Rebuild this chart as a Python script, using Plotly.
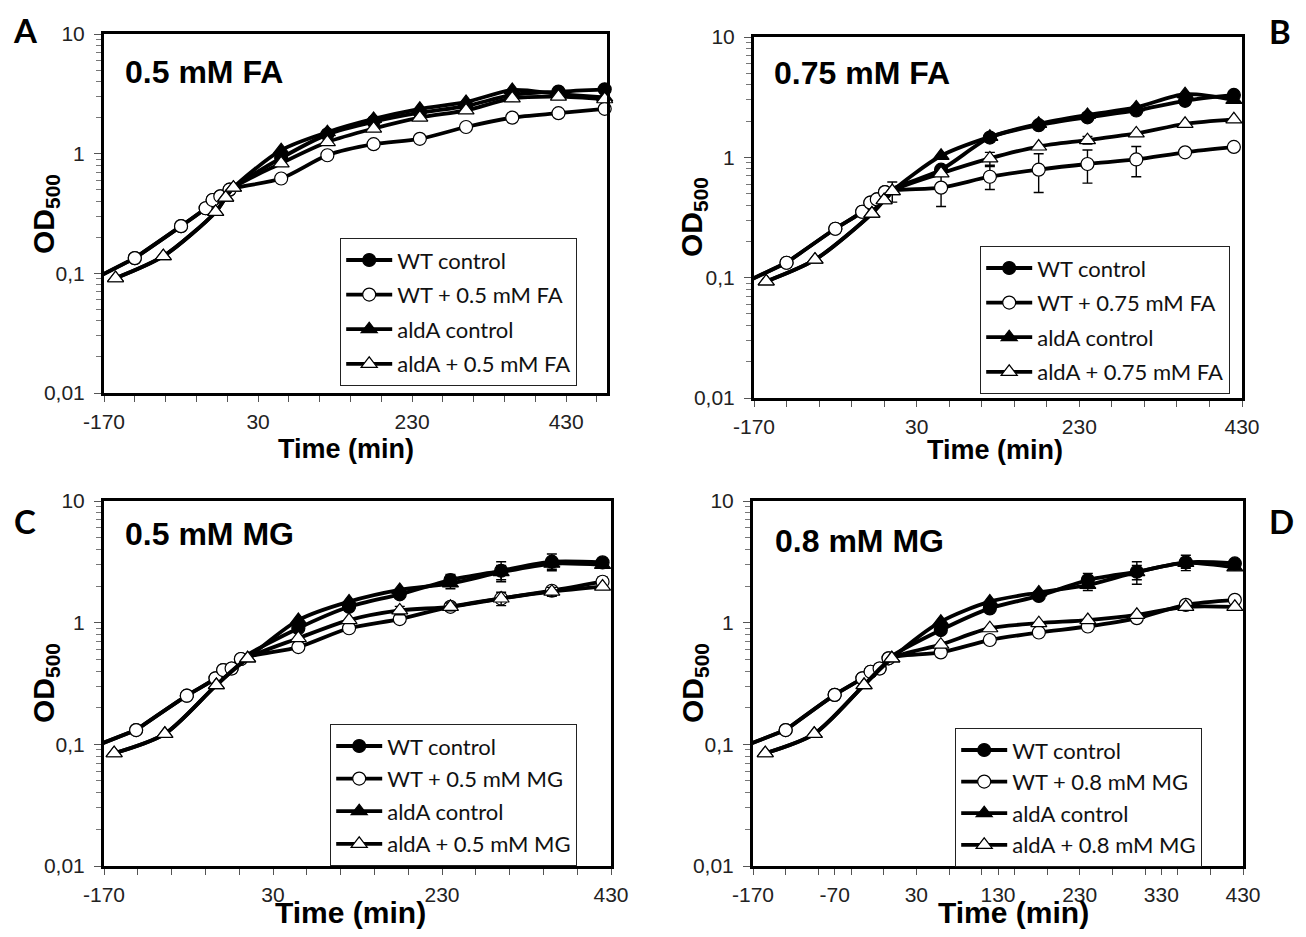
import plotly.graph_objects as go

# ---------------- DATA ----------------
# shared post-treatment sampling times (min)
t_post_A = [60, 120, 180, 240, 300, 360, 420, 480]
t_post = [60, 120, 180, 240, 300, 360, 420]

# Panel A : 0.5 mM FA
A_wt_pre_t = [-180, -130, -70, -38, -29, -19, -7]
A_wt_pre = [0.092, 0.134, 0.248, 0.35, 0.41, 0.44, 0.50]
A_ald_pre_t = [-155, -93, -25, -12, -2]
A_ald_pre = [0.091, 0.139, 0.326, 0.43, 0.52]
A_wt_ctrl = [0.92, 1.45, 1.85, 2.2, 2.5, 3.1, 3.3, 3.45]
A_wt_trt = [0.62, 0.97, 1.2, 1.33, 1.67, 2.0, 2.18, 2.37]
A_ald_ctrl = [1.07, 1.51, 1.95, 2.37, 2.7, 3.4, 3.15, 2.95]
A_ald_trt = [0.83, 1.25, 1.62, 2.0, 2.3, 2.9, 3.0, 2.85]

# Panel B : 0.75 mM FA
B_wt_pre_t = [-180, -130, -70, -37, -27, -19, -9]
B_wt_pre = [0.092, 0.133, 0.255, 0.353, 0.42, 0.447, 0.514]
B_ald_pre_t = [-155, -95, -25, -10, 0]
B_ald_pre = [0.093, 0.141, 0.341, 0.44, 0.524]
B_wt_ctrl = [0.79, 1.46, 1.85, 2.15, 2.45, 2.95, 3.3]
B_wt_trt = [0.56, 0.69, 0.79, 0.88, 0.96, 1.1, 1.22]
B_ald_ctrl = [1.03, 1.48, 1.9, 2.25, 2.6, 3.35, 3.0]
B_ald_trt = [0.735, 0.98, 1.23, 1.39, 1.58, 1.9, 2.07]
B_wt_trt_err = [0.17, 0.15, 0.28, 0.27, 0.27, 0, 0]
B_ald_trt_err = [0, 0.12, 0, 0.1, 0, 0, 0]
B_wt_ctrl_err = [0, 0.08, 0, 0, 0, 0, 0]
B_ald_pre_err = [0, 0, 0, 0, 0.1]

# Panel C : 0.5 mM MG
C_wt_pre_t = [-180, -132, -72, -38, -29, -19, -8]
C_wt_pre = [0.097, 0.131, 0.251, 0.349, 0.408, 0.42, 0.503]
C_ald_pre_t = [-158, -98, -37, 0]
C_ald_pre = [0.0845, 0.122, 0.307, 0.509]
C_wt_ctrl = [0.9, 1.35, 1.71, 2.24, 2.67, 3.17, 3.13]
C_wt_trt = [0.63, 0.9, 1.07, 1.35, 1.58, 1.83, 2.17]
C_ald_ctrl = [1.05, 1.49, 1.86, 2.1, 2.6, 3.05, 2.98]
C_ald_trt = [0.745, 1.05, 1.26, 1.35, 1.58, 1.8, 1.98]
C_wt_ctrl_err = [0, 0, 0, 0.25, 0.5, 0.5, 0]
C_ald_ctrl_err = [0, 0, 0, 0.2, 0.35, 0.3, 0]
C_wt_trt_err = [0, 0, 0, 0, 0, 0.1, 0.2]
C_ald_trt_err = [0, 0, 0.1, 0.1, 0.2, 0.15, 0]

# Panel D : 0.8 mM MG
D_wt_pre_t = [-180, -130, -70, -36, -26, -15, -4]
D_wt_pre = [0.097, 0.131, 0.255, 0.349, 0.395, 0.42, 0.509]
D_ald_pre_t = [-155, -95, -34, 0]
D_ald_pre = [0.0845, 0.122, 0.307, 0.509]
D_wt_ctrl = [0.87, 1.31, 1.66, 2.24, 2.62, 3.13, 3.07]
D_wt_trt = [0.57, 0.72, 0.83, 0.93, 1.09, 1.4, 1.54]
D_ald_ctrl = [1.02, 1.49, 1.77, 2.04, 2.6, 3.1, 2.85]
D_ald_trt = [0.66, 0.9, 0.99, 1.05, 1.16, 1.35, 1.35]
D_wt_ctrl_err = [0, 0, 0, 0.3, 0.55, 0.45, 0]
D_ald_ctrl_err = [0, 0, 0, 0.2, 0.35, 0.3, 0]

# labels
panel_letters = ["A", "B", "C", "D"]
panel_titles = ["0.5 mM FA", "0.75 mM FA", "0.5 mM MG", "0.8 mM MG"]
treatments = ["0.5 mM FA", "0.75 mM FA", "0.5 mM MG", "0.8 mM MG"]
y_tickvals = [0.01, 0.1, 1, 10]
y_ticktext = ["0,01", "0,1", "1", "10"]
x_ticks_abc = [-170, 30, 230, 430]
x_ticks_d = [-170, -70, 30, 130, 230, 330, 430]

# ---------------- LAYOUT GEOMETRY ----------------
# the page body adds an 8px offset; positions below are in screen pixels
W, H = 1306, 937
OFF = 8
FW, FH = W - OFF, H - OFF


def fx(x):
    return (x - OFF) / FW


def fy(y):
    return 1 - (y - OFF) / FH


panels = [
    dict(dom=(104, 607, 34, 393), xr=[-170, 483], xt=x_ticks_abc,
         wt_pre_t=A_wt_pre_t, wt_pre=A_wt_pre, ald_pre_t=A_ald_pre_t, ald_pre=A_ald_pre,
         tp=t_post_A, wc=A_wt_ctrl, wtr=A_wt_trt, ac=A_ald_ctrl, atr=A_ald_trt,
         wce=None, wte=None, ace=None, ate=None, ape=None,
         letter=(25, 8, "top"), title=(123, 72), od=(45, 214), time=(346, 449), tsize=27,
         leg=(340, 238), gap=3),
    dict(dom=(754, 1242, 37, 398), xr=[-170, 430], xt=x_ticks_abc,
         wt_pre_t=B_wt_pre_t, wt_pre=B_wt_pre, ald_pre_t=B_ald_pre_t, ald_pre=B_ald_pre,
         tp=t_post, wc=B_wt_ctrl, wtr=B_wt_trt, ac=B_ald_ctrl, atr=B_ald_trt,
         wce=B_wt_ctrl_err, wte=B_wt_trt_err, ace=None, ate=B_ald_trt_err, ape=B_ald_pre_err,
         letter=(1280, 9, "top"), title=(772, 73), od=(693, 217), time=(995, 450), tsize=27,
         leg=(980, 246), gap=3),
    dict(dom=(104, 611, 501, 866), xr=[-170, 430], xt=x_ticks_abc,
         wt_pre_t=C_wt_pre_t, wt_pre=C_wt_pre, ald_pre_t=C_ald_pre_t, ald_pre=C_ald_pre,
         tp=t_post, wc=C_wt_ctrl, wtr=C_wt_trt, ac=C_ald_ctrl, atr=C_ald_trt,
         wce=C_wt_ctrl_err, wte=C_wt_trt_err, ace=C_ald_ctrl_err, ate=C_ald_trt_err, ape=None,
         letter=(25, 521, "middle"), title=(123, 534), od=(45, 683), time=(350, 912), tsize=30,
         leg=(330, 724), gap=1),
    dict(dom=(753, 1243, 501, 866), xr=[-170, 430], xt=x_ticks_d,
         wt_pre_t=D_wt_pre_t, wt_pre=D_wt_pre, ald_pre_t=D_ald_pre_t, ald_pre=D_ald_pre,
         tp=t_post, wc=D_wt_ctrl, wtr=D_wt_trt, ac=D_ald_ctrl, atr=D_ald_trt,
         wce=D_wt_ctrl_err, wte=None, ace=D_ald_ctrl_err, ate=None, ape=None,
         letter=(1281, 521, "middle"), title=(773, 541), od=(694, 683), time=(1013, 912), tsize=30,
         leg=(955, 728), gap=0),
]

fig = go.Figure()
LINE_W = 3.8
TICK_FONT = dict(family="Liberation Sans Narrow, Liberation Sans, Arial", size=21, color="#222")
LEG_FONT = dict(family="Lato, Carlito, Open Sans", size=22, color="#111")
annotations = []


def err_arr(pre_len, pre_err, post_err, n_post):
    pe = pre_err if pre_err is not None else [0] * pre_len
    po = post_err if post_err is not None else [0] * n_post
    vals = list(pe) + list(po)
    return [v if v else None for v in vals]


for i, p in enumerate(panels):
    k = i + 1
    xa = "x" if k == 1 else f"x{k}"
    ya = "y" if k == 1 else f"y{k}"
    leg = "legend" if k == 1 else f"legend{k}"
    conc = treatments[i]

    wt_t = p["wt_pre_t"][1:] + p["tp"]
    ald_t = p["ald_pre_t"] + p["tp"]
    n_post = len(p["tp"])

    series = [
        ("WT control", wt_t, p["wt_pre"][1:] + p["wc"], "circle", "black", 13,
         err_arr(len(p["wt_pre"]) - 1, None, p["wce"], n_post)),
        (f"WT + {conc}", wt_t, p["wt_pre"][1:] + p["wtr"], "circle", "white", 13,
         err_arr(len(p["wt_pre"]) - 1, None, p["wte"], n_post)),
        ("aldA control", ald_t, p["ald_pre"] + p["ac"], "triangle-up", "black", 14,
         err_arr(len(p["ald_pre"]), None, p["ace"], n_post)),
        (f"aldA + {conc}", ald_t, p["ald_pre"] + p["atr"], "triangle-up", "white", 14,
         err_arr(len(p["ald_pre"]), p["ape"], p["ate"], n_post)),
    ]

    # lead-in segment of WT curves from before the axis start (line only)
    for _ in range(2):
        fig.add_trace(go.Scatter(
            x=p["wt_pre_t"][:2], y=p["wt_pre"][:2], mode="lines",
            line=dict(color="black", width=LINE_W), showlegend=False,
            hoverinfo="skip", xaxis=xa, yaxis=ya))

    for j, (name, tx, vy, sym, fill, msize, err) in enumerate(series):
        fig.add_trace(go.Scatter(
            x=tx, y=vy, name=name, mode="lines+markers",
            line=dict(color="black", width=LINE_W, shape="spline", smoothing=0.8),
            marker=dict(symbol=sym, size=msize, color=fill,
                        line=dict(color="black", width=1.2)),
            error_y=dict(type="data", array=err, visible=True, color="black",
                         thickness=1.4, width=5),
            cliponaxis=False, legend=leg, legendgroup=f"g{k}{j}",
            xaxis=xa, yaxis=ya))

    x0, x1, y0, y1 = p["dom"]
    xaxis = dict(
        domain=[fx(x0), fx(x1)], range=p["xr"], anchor=ya, automargin=False,
        tickmode="array", tickvals=p["xt"], ticktext=[str(v) for v in p["xt"]],
        ticks="outside", ticklen=6, tickwidth=1.3, tickcolor="#555",
        ticklabelstandoff=2,
        minor=dict(ticks="outside", tickmode="array",
                   tickvals=list(range(-170, int(p["xr"][1]) + 1, 40)),
                   ticklen=6, tickwidth=1.3, tickcolor="#555"),
        showline=True, linecolor="black", linewidth=3, mirror=True,
        showgrid=False, zeroline=False, tickfont=TICK_FONT, fixedrange=True)
    minor_y = [m * 10 ** e for e in (-2, -1, 0) for m in range(2, 10)]
    yaxis = dict(
        domain=[fy(y1), fy(y0)], type="log", range=[-2, 1], anchor=xa, automargin=False,
        tickmode="array", tickvals=y_tickvals, ticktext=y_ticktext,
        ticks="outside", ticklen=7, tickwidth=1.3, tickcolor="#555",
        ticklabelstandoff=5,
        minor=dict(ticks="outside", tickmode="array", tickvals=minor_y,
                   ticklen=5, tickwidth=1.1, tickcolor="#777"),
        showline=True, linecolor="black", linewidth=3, mirror=True,
        showgrid=False, zeroline=False, tickfont=TICK_FONT, fixedrange=True)
    fig.update_layout(**{("xaxis" if k == 1 else f"xaxis{k}"): xaxis,
                         ("yaxis" if k == 1 else f"yaxis{k}"): yaxis})

    fig.update_layout(**{leg: dict(
        x=fx(p["leg"][0]), y=fy(p["leg"][1]), xanchor="left", yanchor="top",
        xref="paper", yref="paper",
        bgcolor="white", bordercolor="#222", borderwidth=1.2,
        font=LEG_FONT, itemwidth=46, tracegroupgap=p["gap"], traceorder="grouped",
        itemsizing="trace")})

    lx, ly, lanchor = p["letter"]
    annotations += [
        dict(text=f"<b>{panel_letters[i]}</b>", x=fx(lx), y=fy(ly),
             xref="paper", yref="paper", showarrow=False, xanchor="center", yanchor=lanchor,
             font=dict(family="Lato, Open Sans, Liberation Sans", size=33, color="black")),
        dict(text=f"<b>{panel_titles[i]}</b>", x=fx(p["title"][0]), y=fy(p["title"][1]),
             xref="paper", yref="paper", showarrow=False, xanchor="left", yanchor="middle",
             font=dict(family="Liberation Sans, Arial", size=32, color="black")),
        dict(text="<b>OD<sub>500</sub></b>", x=fx(p["od"][0]), y=fy(p["od"][1]),
             xref="paper", yref="paper", showarrow=False, xanchor="center", yanchor="middle",
             textangle=-90, font=dict(family="Liberation Sans, Arial", size=30, color="black")),
        dict(text="<b>Time (min)</b>", x=fx(p["time"][0]), y=fy(p["time"][1]),
             xref="paper", yref="paper", showarrow=False, xanchor="center", yanchor="middle",
             font=dict(family="Liberation Sans Narrow, Liberation Sans, Arial",
                       size=p["tsize"], color="black")),
    ]

fig.update_layout(
    width=FW, height=FH, margin=dict(l=0, r=0, t=0, b=0, autoexpand=False),
    paper_bgcolor="white", plot_bgcolor="white",
    annotations=annotations, hovermode=False)

fig.write_html("out.html")
